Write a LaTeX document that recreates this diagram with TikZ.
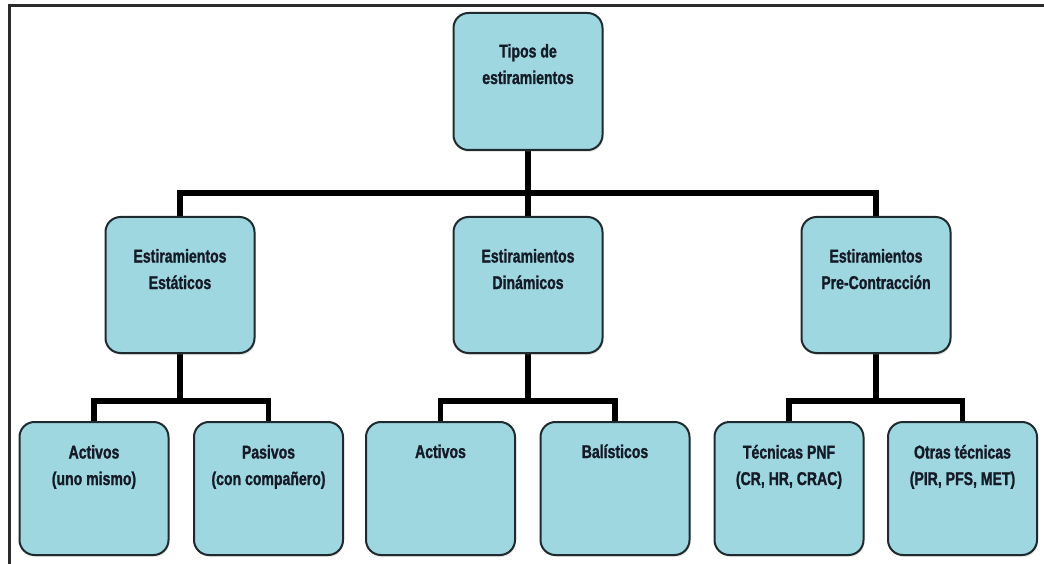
\documentclass[tikz,border=0pt]{standalone}
\usepackage{fontspec}
\setmainfont[FakeStretch=0.76, BoldFeatures={FakeBold=1.2}]{Liberation Sans}
\usetikzlibrary{positioning,shadows,backgrounds}
\definecolor{boxfill}{HTML}{9FD7E1}
\definecolor{boxedge}{HTML}{1E2A2E}
\definecolor{boxink}{HTML}{141A26}
\definecolor{framegray}{HTML}{2B2B2B}

\begin{document}
\begin{tikzpicture}[x=1pt, y=-1pt,
  tipobox/.style={draw=boxedge, fill=boxfill, rounded corners=15pt, line width=2pt,
    minimum width=149pt, minimum height=136pt, inner sep=0pt,
    drop shadow={shadow xshift=1pt, shadow yshift=-2pt, opacity=0.2}},
  subbox/.style={tipobox, minimum height=133pt},
  tipotext/.style={anchor=base, align=center, inner sep=0pt, text=boxink,
    font=\fontsize{18.5}{26.5}\selectfont\bfseries},
  link/.style={line width=5.5pt, black}]
  \useasboundingbox (0,0) rectangle (1044,564);
  \draw[line width=3pt, framegray] (1044,6) -- (9,6) -- (9,564);

  % root
  \node[tipobox, minimum height=137pt] (tipos) at (528,81.5) {};
  \node[tipotext] (tiposT) at ([yshift=-72pt]tipos.north) {Tipos de\\estiramientos};

  % second row
  \node[tipobox] (est) at (180,285) {};
  \node[tipobox] (din) at (528,285) {};
  \node[tipobox] (pre) at (876,285) {};
  \node[tipotext] (estT) at ([yshift=-73pt]est.north) {Estiramientos\\Estáticos};
  \node[tipotext] (dinT) at ([yshift=-73pt]din.north) {Estiramientos\\Dinámicos};
  \node[tipotext] (preT) at ([yshift=-73pt]pre.north) {Estiramientos\\Pre-Contracción};

  % third row
  \node[subbox] (act) at (94,488.5) {};
  \node[subbox] (pas) at (268.5,488.5) {};
  \node[subbox] (dact) at (440.5,488.5) {};
  \node[subbox] (bal) at (615,488.5) {};
  \node[subbox] (pnf) at (789,488.5) {};
  \node[subbox] (otr) at (962.5,488.5) {};
  \node[tipotext] (actT) at ([yshift=-64pt]act.north) {Activos\\(uno mismo)};
  \node[tipotext] (pasT) at ([yshift=-64pt]pas.north) {Pasivos\\(con compañero)};
  \node[tipotext] (dactT) at ([yshift=-37pt]dact.north) {Activos};
  \node[tipotext] (balT) at ([yshift=-37pt]bal.north) {Balísticos};
  \node[tipotext] (pnfT) at ([yshift=-64pt]pnf.north) {Técnicas PNF\\(CR, HR, CRAC)};
  \node[tipotext] (otrT) at ([yshift=-64pt]otr.north) {Otras técnicas\\(PIR, PFS, MET)};

  \coordinate (bus) at (528,193);
  \coordinate (estbus) at (180,401);
  \coordinate (dinbus) at (528,401);
  \coordinate (prebus) at (876,401);

  \begin{scope}[on background layer]
    \draw[link] (tipos) -- (bus);
    \foreach \n in {est,din,pre} \draw[link] (bus) -| (\n);
    \draw[link] (est) -- (estbus);
    \draw[link] (din) -- (dinbus);
    \draw[link] (pre) -- (prebus);
    \draw[link] (estbus) -| (act); \draw[link] (estbus) -| (pas);
    \draw[link] (dinbus) -| (dact); \draw[link] (dinbus) -| (bal);
    \draw[link] (prebus) -| (pnf); \draw[link] (prebus) -| (otr);
  \end{scope}
\end{tikzpicture}
\end{document}
